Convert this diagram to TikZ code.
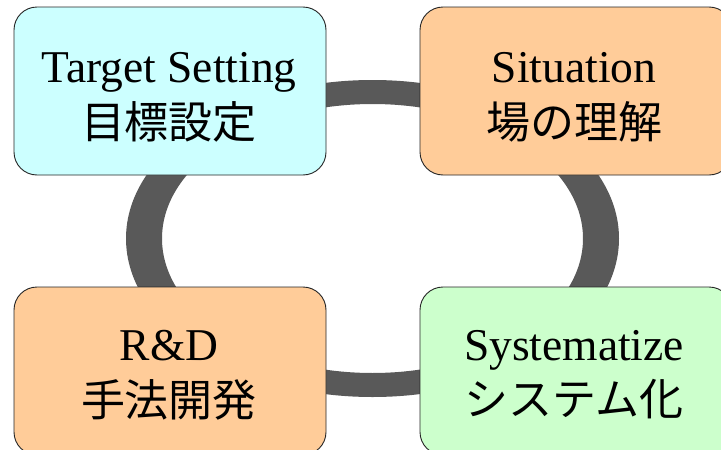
\documentclass[tikz,border=0pt]{standalone}
\usepackage{fontspec}
\setmainfont{Liberation Serif}
\newfontfamily\jp{Noto Sans CJK JP}
\definecolor{cyanbox}{HTML}{CCFFFF}
\definecolor{peachbox}{HTML}{FFCC99}
\definecolor{greenbox}{HTML}{CCFFCC}
\definecolor{ringgray}{HTML}{595959}
\begin{document}
\begin{tikzpicture}[x=1pt,y=-1pt,
  stagebox/.style={draw=black!85, line width=0.9pt, rounded corners=23pt,
    minimum width=312pt, minimum height=168pt, inner sep=0pt},
  entext/.style={anchor=base, inner sep=0pt, font=\fontsize{45.5}{52}\selectfont},
  jptext/.style={anchor=base, inner sep=0pt, font=\fontsize{44}{52}\selectfont\jp}]
\useasboundingbox (0,0) rectangle (721,450);
\clip (0,0) rectangle (721,450);
\fill[white] (0,0) rectangle (721,450);
% ring
\fill[ringgray, even odd rule]
  (372.5,238.5) ellipse [x radius=246.5, y radius=158.5]
  (372.5,238.5) ellipse [x radius=210.5, y radius=134.5];
% boxes
\node[stagebox, fill=cyanbox] (tl) at (170,91) {};
\node[stagebox, fill=peachbox] (tr) at (576,91) {};
\node[stagebox, fill=peachbox] (bl) at (170,371) {};
\node[stagebox, fill=greenbox] (br) at (576,371) {};
% texts
\node[entext] (tlen) at (169,82) {Target Setting};
\node[jptext] (tljp) at (169,138) {目標設定};
\node[entext] (tren) at (574,82) {Situation};
\node[jptext] (trjp) at (574,138) {場の理解};
\node[entext] (blen) at (169,360) {R\&D};
\node[jptext] (bljp) at (169,416) {手法開発};
\node[entext] (bren) at (574,360) {Systematize};
\node[jptext] (brjp) at (574,415) {システム化};
\end{tikzpicture}
\end{document}
